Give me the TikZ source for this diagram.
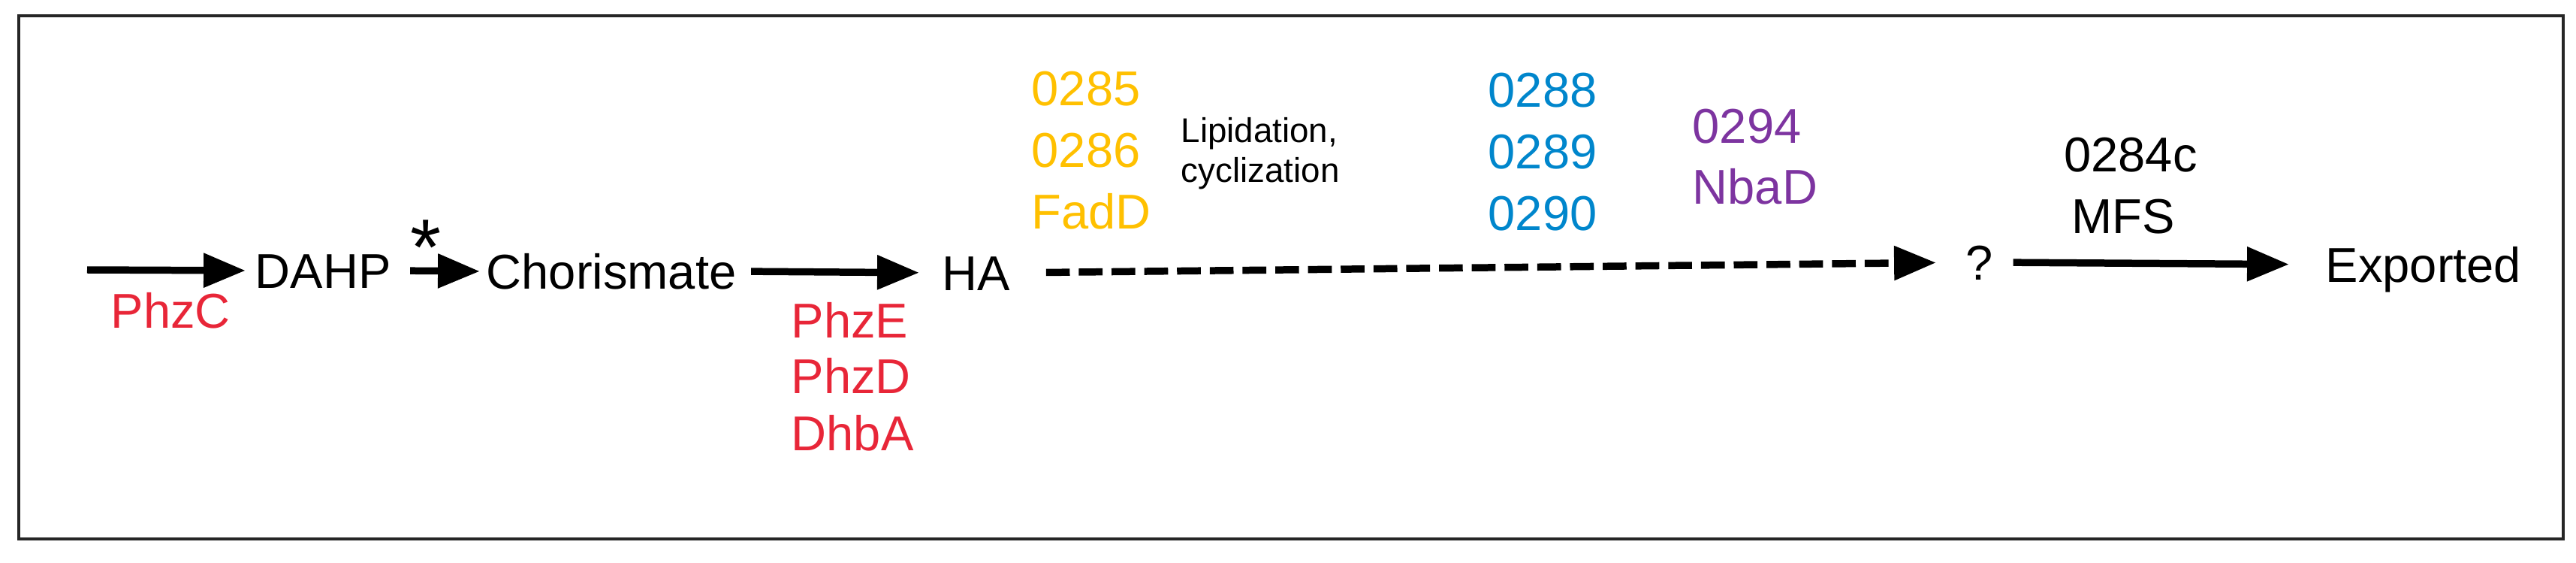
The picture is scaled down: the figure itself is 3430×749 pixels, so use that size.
\documentclass[tikz,border=0pt]{standalone}
\usepackage{fontspec}
\setmainfont{Liberation Sans}
\usepackage{xcolor}
\usepackage{tikz}
\usetikzlibrary{arrows}

\definecolor{phzred}{RGB}{232,38,56}
\definecolor{fadgold}{RGB}{255,192,0}
\definecolor{cycblue}{RGB}{0,134,204}
\definecolor{nbapurple}{RGB}{125,52,160}

\tikzset{
  lbl/.style={inner sep=0pt, font=\fontsize{18.5}{22}\selectfont},
  metab/.style={lbl, anchor=west, text height=0.466cm, text depth=0pt},
  enz/.style={lbl, anchor=base west},
  flow/.style={black, line width=2.7pt, ->},
}

\begin{document}
\begin{tikzpicture}[x=0.01cm,y=-0.01cm,>=triangle 45]
\useasboundingbox (0,0) rectangle (3430,749);
\draw[black!85, line width=1.15pt] (25,21) rectangle (3413,717);

% metabolites along the pathway
\coordinate (in) at (116,359);
\node[metab] (dahp) at (339,360) {DAHP};
\node[metab] (chor) at (647,361) {Chorismate};
\node[metab] (ha)   at (1254,363) {HA};
\node[metab] (q)    at (2617,349) {?};
\node[metab] (exp)  at (3096,352) {Exported};

% enzymes
\node[enz, text=phzred] (phzc) at (147,437) {PhzC};
\node[lbl, anchor=base, font=\fontsize{30}{30}\selectfont] (star) at (567,366) {*};
\foreach \t [count=\i] in {PhzE,PhzD,DhbA}
  \node[enz, text=phzred] (red\i) at (1053,{449+75*(\i-1)}) {\t};
\foreach \t [count=\i] in {0285,0286,FadD}
  \node[enz, text=fadgold] (gold\i) at (1373,{141+82*(\i-1)}) {\t};
\node[enz, font=\fontsize{13}{15}\selectfont] (lip1) at (1572,190) {Lipidation,};
\node[enz, font=\fontsize{13}{15}\selectfont] (lip2) at (1572,243) {cyclization};
\foreach \t [count=\i] in {0288,0289,0290}
  \node[enz, text=cycblue] (blue\i) at (1981,{143+82*(\i-1)}) {\t};
\foreach \t [count=\i] in {0294,NbaD}
  \node[enz, text=nbapurple] (purp\i) at (2253,{191+81*(\i-1)}) {\t};
\node[lbl, anchor=base] (mfs1) at (2837,229) {0284c};
\node[lbl, anchor=base] (mfs2) at (2827,311) {MFS};

% arrows
\draw[flow, shorten >=0.13cm] (in) -- (dahp.west);
\draw[flow, shorten <=0.25cm, shorten >=0.09cm] (dahp.east) -- (chor.west);
\draw[flow, shorten <=0.19cm, shorten >=0.31cm] (chor.east) -- (ha.west);
\draw[flow, dash pattern=on 9pt off 3.4pt, shorten <=0.47cm, shorten >=0.40cm]
     (ha.east) -- (q.west);
\draw[flow, shorten <=0.26cm, shorten >=0.49cm] (q.east) -- (exp.west);
\end{tikzpicture}
\end{document}
